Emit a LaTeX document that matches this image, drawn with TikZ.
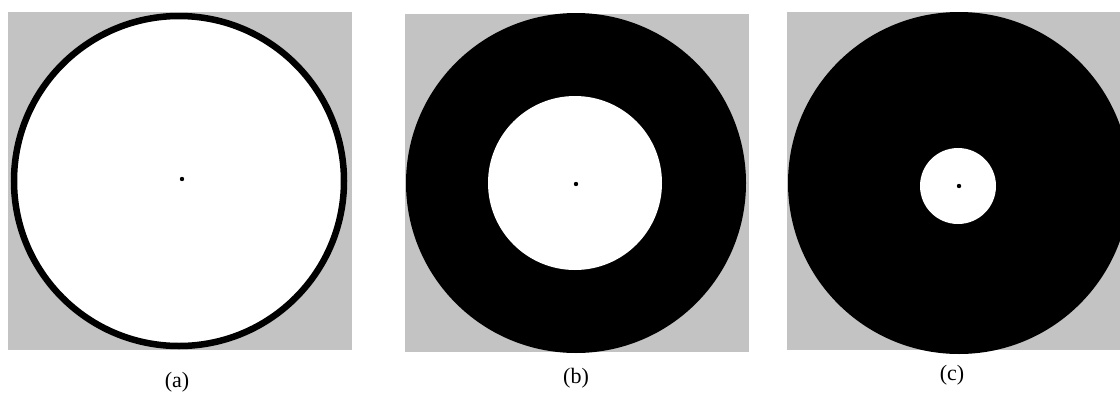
\documentclass[tikz,border=0pt]{standalone}
\usepackage{fontspec}
\setmainfont{Liberation Serif}
\definecolor{bggray}{RGB}{195,195,195}
\tikzset{
  panel/.style={fill=bggray, draw=none},
  disk/.style={fill=black, draw=none},
  hole/.style={fill=white, draw=none},
  captext/.style={font=\fontsize{22}{24}\selectfont, inner sep=0pt}
}
\begin{document}
\begin{tikzpicture}[x=1pt,y=-1pt]
\useasboundingbox (0,0) rectangle (1120,394);
\begin{scope}
\clip (0,0) rectangle (1120,394);
% (a)
\fill[panel] (8,12) rectangle (352,350);
\draw[line width=6.5pt, fill=white] (179,181) circle[radius=165];
\fill (182,179) circle[radius=2.2];
% (b)
\fill[panel] (405,14) rectangle (749,352);
\fill[disk] (576,183) circle[radius=170];
\fill[hole] (575,183) circle[radius=87];
\fill (576,184) circle[radius=2.2];
% (c)
\fill[panel] (787,12) rectangle (1125,350);
\fill[disk] (959,183) circle[radius=171];
\fill[hole] (958,186) circle[radius=38];
\fill (959,186) circle[radius=2.2];
\end{scope}
\node[captext] (la) at (177,382) {(a)};
\node[captext] (lb) at (576,378) {(b)};
\node[captext] (lc) at (952,375) {(c)};
\end{tikzpicture}
\end{document}
